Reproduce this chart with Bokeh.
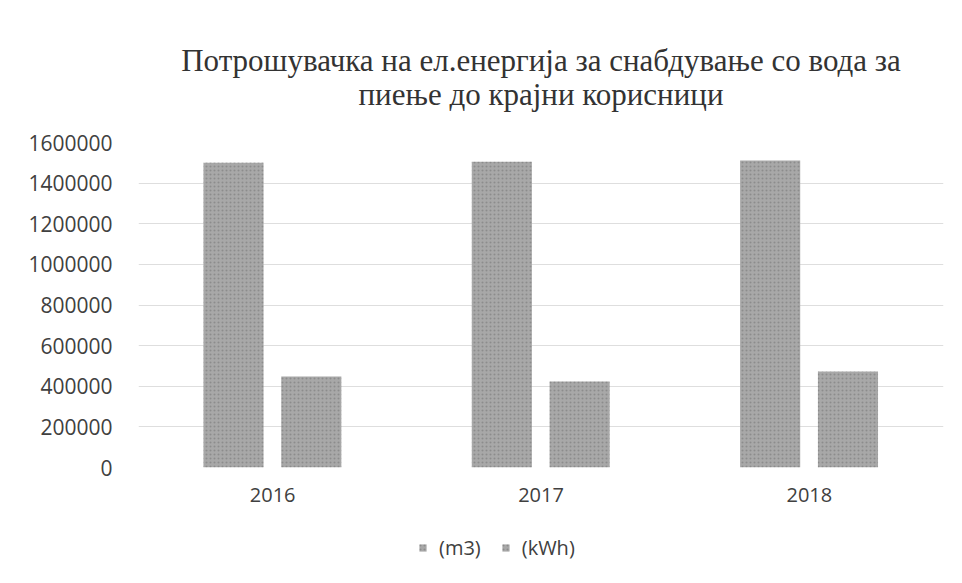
from bokeh.plotting import figure
from bokeh.layouts import column
from bokeh.models import FactorRange, Range1d, FixedTicker, BasicTickFormatter, Legend, LegendItem, Title
from bokeh.transform import dodge
from bokeh.embed import file_html
from bokeh.resources import INLINE

years = ["2016", "2017", "2018"]
m3 = [1500000, 1505000, 1512000]
kwh = [448000, 423000, 473000]
y_ticks = [0, 200000, 400000, 600000, 800000, 1000000, 1200000, 1400000, 1600000]
title_lines = ["Потрошувачка на ел.енергија за снабдување со вода за",
               "пиење до крајни корисници"]
series_names = ["(m3)", "(kWh)"]

p = figure(width=962, height=517, x_range=FactorRange(*years, range_padding=0),
           y_range=Range1d(0, 1600000), output_backend="svg", toolbar_location=None,
           min_border_left=138, min_border_right=19, min_border_top=142, min_border_bottom=50,
           title=None)

data = dict(years=years, m3=m3, kwh=kwh)
bar_style = dict(fill_color="#a8a8a8", line_color=None, hatch_pattern="dot",
                 hatch_color="#8c8c8c", hatch_scale=4, hatch_weight=1)
p.vbar(x=dodge("years", -0.146, range=p.x_range), top="m3", width=0.224, source=data, **bar_style)
p.vbar(x=dodge("years", 0.144, range=p.x_range), top="kwh", width=0.224, source=data, **bar_style)

title_style = dict(align="center", offset=-61, text_font="Liberation Serif", text_font_size="31px",
                   text_font_style="normal", text_color="#333333")
p.add_layout(Title(text=title_lines[1], standoff=62, **title_style), "above")
p.add_layout(Title(text=title_lines[0], standoff=-68, **title_style), "above")

p.outline_line_color = None
p.xgrid.grid_line_color = None
p.ygrid.grid_line_color = "#dedede"
p.ygrid.ticker = FixedTicker(ticks=y_ticks)

p.yaxis.ticker = FixedTicker(ticks=y_ticks)
p.yaxis.formatter = BasicTickFormatter(use_scientific=False)
for ax in (p.xaxis[0], p.yaxis[0]):
    ax.axis_line_color = None
    ax.major_tick_line_color = None
    ax.minor_tick_line_color = None
    ax.major_label_text_font = "Open Sans"
    ax.major_label_text_color = "#404040"
p.yaxis.major_label_text_font_size = "21px"
p.xaxis.major_label_text_font_size = "20px"
p.yaxis.major_label_standoff = 20
p.xaxis.major_label_standoff = 14

# legend strip below the chart
lg = figure(width=962, height=66, x_range=Range1d(0, 1), y_range=Range1d(0, 1),
            output_backend="svg", toolbar_location=None, x_axis_type=None, y_axis_type=None,
            min_border_left=0, min_border_right=0, min_border_top=0, min_border_bottom=0)
lg.outline_line_color = None
lg.xgrid.grid_line_color = None
lg.ygrid.grid_line_color = None
s1 = lg.vbar(x=[-5], top=[0], width=0.1, **bar_style)
s2 = lg.vbar(x=[-5], top=[0], width=0.1, **bar_style)
legend = Legend(items=[LegendItem(label=series_names[0], renderers=[s1]),
                       LegendItem(label=series_names[1], renderers=[s2])],
                orientation="horizontal", location=(280, 22),
                border_line_color=None, background_fill_alpha=0,
                label_text_font="Open Sans", label_text_font_size="20px", label_text_color="#404040",
                glyph_width=9, glyph_height=9, spacing=20, padding=0, margin=0, label_standoff=12)
lg.add_layout(legend, "center")

open("out.html", "w").write(file_html(column(p, lg, spacing=0), INLINE))
